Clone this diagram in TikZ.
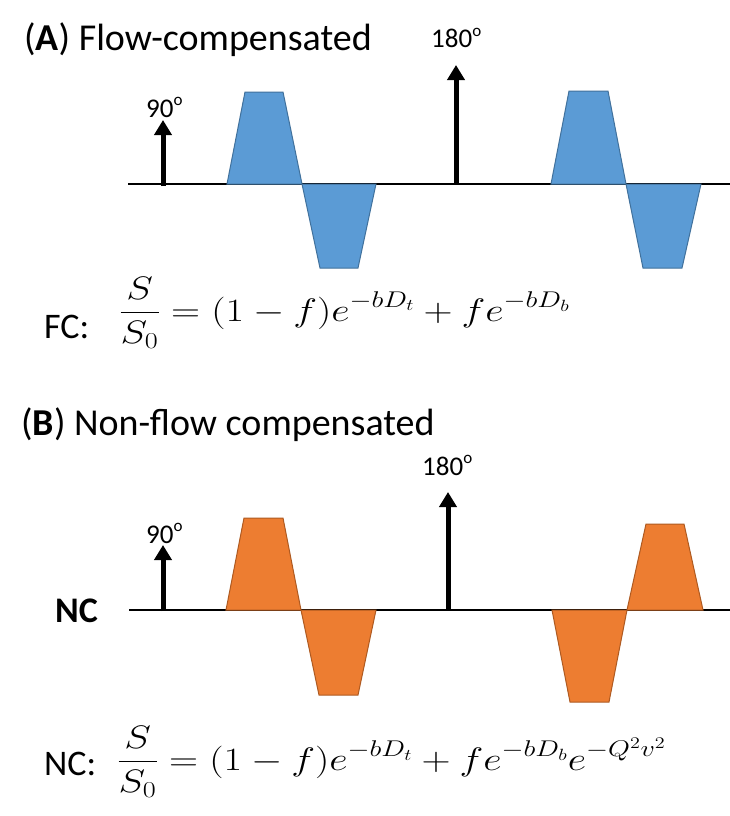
\RequirePackage{fix-cm}
\documentclass[tikz,border=0pt]{standalone}
\usepackage{amsmath}
\usepackage{graphicx}
\usepackage{fontspec}
\setmainfont{Carlito}
\usetikzlibrary{arrows.meta}
\definecolor{bluefill}{HTML}{5B9BD5}
\definecolor{blueline}{HTML}{41719C}
\definecolor{orfill}{HTML}{ED7D31}
\definecolor{orline}{HTML}{AE5A21}
\newcommand{\degl}[1]{#1\raisebox{0.42em}{\fontsize{17}{18}\selectfont o}}
\newcommand{\wideeq}[1]{\scalebox{1.24}[1]{$\displaystyle #1$}}
\begin{document}
\begin{tikzpicture}[x=1pt,y=-1pt,
  bluep/.style={fill=bluefill,draw=blueline,line width=1pt},
  orp/.style={fill=orfill,draw=orline,line width=1pt},
  rfarrow/.style={line width=5pt,-{Triangle[width=17pt,length=15pt]}},
  baseline/.style={line width=1.6pt,black},
  title/.style={anchor=base west,inner sep=0pt,font=\fontsize{38}{42}\selectfont},
  deg/.style={anchor=base west,inner sep=0pt,font=\fontsize{27}{30}\selectfont},
  lbl/.style={anchor=base west,inner sep=0pt,font=\fontsize{36}{42}\selectfont},
  eq/.style={anchor=base west,inner sep=0pt,font=\fontsize{32.5}{38}\selectfont}]
\useasboundingbox[fill=white] (0,0) rectangle (730,816);
% ---------- Panel A ----------
\node[title] (tA) at (24,51) {(\textbf{A}) Flow-compensated};
\draw[baseline] (128,184) -- (730,184);
\draw[bluep] (227,184) -- (245,92) -- (283,92) -- (302,184) -- cycle;
\draw[bluep] (302,184) -- (320,268) -- (358,268) -- (376,184) -- cycle;
\draw[bluep] (551,184) -- (569,91) -- (608,91) -- (626,184) -- cycle;
\draw[bluep] (626,184) -- (643,268) -- (682,268) -- (701,184) -- cycle;
\coordinate (a90b) at (163,186); \coordinate (a90t) at (163,120);
\coordinate (a180b) at (456,184); \coordinate (a180t) at (456,65);
\draw[rfarrow] (a90b) -- (a90t);
\draw[rfarrow] (a180b) -- (a180t);
\node[deg] (d90A) at (146,117) {\degl{90}};
\node[deg] (d180A) at (431,48) {\degl{180}};
\node[lbl] (fc) at (44,338) {FC:};
\node[eq] (eqA) at (119,321) {\wideeq{\frac{S}{S_0}=(1-f)e^{-bD_t}+fe^{-bD_b}}};
% ---------- Panel B ----------
\node[title] (tB) at (21,435) {(\textbf{B}) Non-flow compensated};
\draw[baseline] (129,610) -- (730,610);
\draw[orp] (226,610) -- (244,518) -- (283,518) -- (301,610) -- cycle;
\draw[orp] (301,610) -- (319,695) -- (358,695) -- (376,610) -- cycle;
\draw[orp] (552,610) -- (570,702) -- (609,702) -- (627,610) -- cycle;
\draw[orp] (627,610) -- (646,524) -- (684,524) -- (703,610) -- cycle;
\coordinate (b90b) at (163,611); \coordinate (b90t) at (163,545);
\coordinate (b180b) at (448,610); \coordinate (b180t) at (448,492);
\draw[rfarrow] (b90b) -- (b90t);
\draw[rfarrow] (b180b) -- (b180t);
\node[deg] (d90B) at (146,543) {\degl{90}};
\node[deg] (d180B) at (422,475) {\degl{180}};
\node[lbl,font=\fontsize{36}{40}\selectfont\bfseries] (ncl) at (55,622) {NC};
\node[lbl] (nc) at (44,775) {NC:};
\node[eq] (eqB) at (117,770) {\wideeq{\frac{S}{S_0}=(1-f)e^{-bD_t}+fe^{-bD_b}e^{-Q^2v^2}}};
\end{tikzpicture}
\end{document}
